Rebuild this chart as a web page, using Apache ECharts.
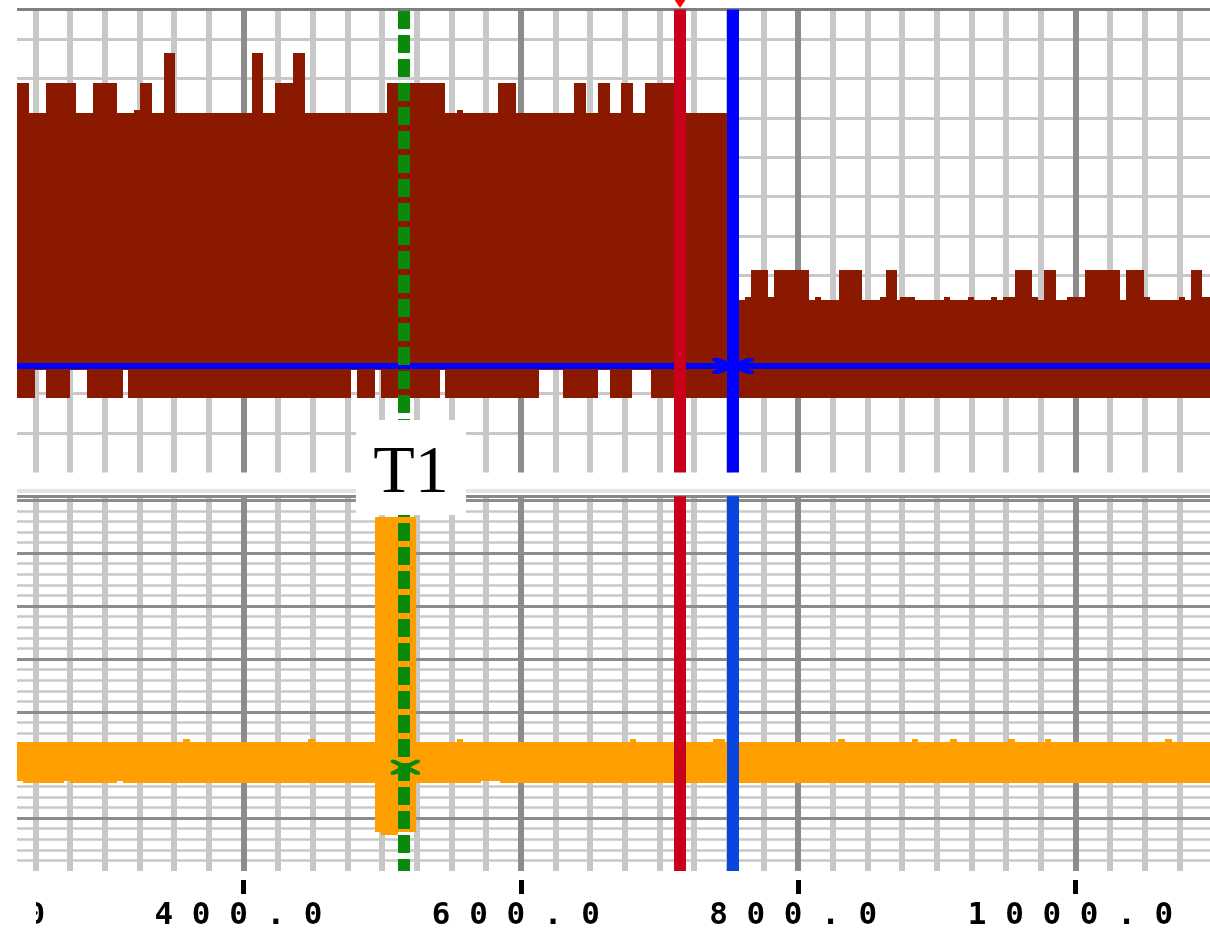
<!DOCTYPE html>
<html lang="en">
<head>
<meta charset="UTF-8">
<title>Trace</title>
<script src="https://cdn.jsdelivr.net/npm/echarts@6/dist/echarts.min.js"></script>
<style>
    html, body {margin: 0; padding: 0; background: #fff;}
    #main {width: 1210px; height: 935px;}
</style>
</head>
<body>
<div id="main"></div>
<script type="text/javascript">
    // x 轴范围 (时间), 网格每 25 一条细线, 每 200 一条粗线
    var xMin = 200, xMax = 1100, xEnd = 1097;
    var yTopMax = 11.75, yBotMax = 7.075;

    // 光标位置
    var cursorT1 = 515.7, cursorRed = 714.8, cursorBlue = 753.0;
    var blueLevel = 2.7;      // 上面板的蓝色水平线
    var greenMarkY = 1.96;    // 下面板绿色 X 标记

    // 上面板 (红色) 包络: 上边沿
    var redTopX = [236.7, 245.3, 257.6, 279.2, 291.5, 308.8, 321.0, 325.4, 334.0, 342.7, 350.6, 406.1, 414.1, 422.7, 435.7, 444.4,
        503.5, 545.3, 554.0, 558.3, 583.5, 596.5, 638.3, 647.0, 655.6, 664.3, 672.2, 680.9, 689.5, 714.8,
        753.0, 761.6, 766.0, 778.2, 782.6, 807.8, 812.1, 816.5, 829.4, 846.0, 859.0, 863.3, 871.3, 873.4, 884.2,
        905.2, 909.5, 922.5, 926.8, 939.1, 943.4, 947.7, 956.4, 968.6, 972.9, 977.3, 985.9, 993.9, 1006.8,
        1032.1, 1036.4, 1049.4, 1053.7, 1074.6, 1078.9, 1083.3, 1091.2];
    var redTopY = [9.88, 9.12, 9.88, 9.12, 9.88, 9.12, 9.2, 9.88, 9.12, 10.65, 9.12, 10.65, 9.12, 9.88, 10.65, 9.12,
        9.88, 9.12, 9.2, 9.12, 9.88, 9.12, 9.88, 9.12, 9.88, 9.12, 9.88, 9.12, 9.88, 9.12,
        4.38, 4.45, 5.14, 4.45, 5.14, 4.38, 4.45, 4.38, 5.14, 4.38, 4.45, 5.14, 4.38, 4.45, 4.38,
        4.45, 4.38, 4.45, 4.38, 4.45, 4.38, 4.45, 5.14, 4.45, 4.38, 5.14, 4.38, 4.45, 5.14,
        4.38, 5.14, 4.45, 4.38, 4.45, 4.38, 5.14, 4.45];
    // 下边沿
    var redLowX = [236.7, 249.3, 257.4, 274.7, 287.0, 313.3, 316.6, 477.2, 481.7, 495.0, 499.0, 541.6, 545.3,
        613.1, 630.4, 655.6, 664.3, 680.5, 693.7];
    var redLowY = [1.89, 2.61, 1.89, 2.61, 1.89, 2.61, 1.89, 2.61, 1.89, 2.61, 1.89, 2.61, 1.89,
        2.61, 1.89, 2.61, 1.89, 2.61, 1.89];

    // 下面板 (橙色) 包络
    var orangeTopX = [236.7, 356.4, 361.4, 446.5, 451.6, 494.8, 524.3, 554.0, 558.3, 678.7, 683.1, 738.6, 747.2,
        828.7, 833.8, 882.1, 886.4, 909.5, 914.5, 951.3, 956.4, 978.0, 982.3, 1064.5, 1069.5];
    var orangeTopY = [2.435, 2.49, 2.435, 2.49, 2.435, 6.68, 2.435, 2.49, 2.435, 2.49, 2.435, 2.49, 2.435,
        2.49, 2.435, 2.49, 2.435, 2.49, 2.435, 2.49, 2.435, 2.49, 2.435, 2.49, 2.435];
    var orangeLowX = [236.7, 241.0, 270.6, 274.9, 308.8, 313.1, 494.8, 499.2, 511.4, 524.3, 571.3, 585.0];
    var orangeLowY = [1.70, 1.656, 1.70, 1.656, 1.70, 1.656, 0.736, 0.68, 0.736, 1.656, 1.70, 1.656];

    // 把上下边沿合成为 [x0, x1, 下, 上] 的小块
    function buildBands(topX, topY, lowX, lowY, end) {
        var xs = topX.concat(lowX, [end]).sort(function (a, b) { return a - b; });
        var pts = [];
        xs.forEach(function (v) {
            if (!pts.length || v - pts[pts.length - 1] > 1e-6) pts.push(v);
        });
        function levelAt(xArr, yArr, v) {
            var lv = yArr[0];
            for (var i = 0; i < xArr.length; i++) {
                if (xArr[i] <= v + 1e-6) lv = yArr[i];
            }
            return lv;
        }
        var out = [];
        for (var i = 0; i < pts.length - 1; i++) {
            out.push([pts[i], pts[i + 1], levelAt(lowX, lowY, pts[i]), levelAt(topX, topY, pts[i])]);
        }
        return out;
    }

    function bandItem(color) {
        return function (params, api) {
            var a = api.coord([api.value(0), api.value(3)]);
            var b = api.coord([api.value(1), api.value(2)]);
            var x0 = Math.round(a[0]), x1 = Math.round(b[0]);
            var y0 = Math.round(a[1]), y1 = Math.round(b[1]);
            return {
                type: 'rect',
                shape: {x: x0, y: y0, width: x1 - x0, height: y1 - y0},
                style: {fill: color}
            };
        };
    }

    var light = '#c8c8c8', dark = '#8c8c8c';
    var vLineColors = [dark, light, light, light, light, light, light, light];
    var crossPath = 'path://M0,0L6,0L41,13L41,16L35,16L0,3ZM35,0L41,0L41,3L6,16L0,16L0,13Z';

    function gridXAxis(gridIndex, lineColor) {
        return {
            type: 'value', gridIndex: gridIndex, position: 'top', min: xMin, max: xMax, interval: 25,
            axisLine: {show: true, onZero: false, lineStyle: {color: lineColor, width: 3}},
            axisTick: {show: false}, axisLabel: {show: false},
            splitLine: {show: true, lineStyle: {color: vLineColors, width: 6}}
        };
    }

    function cursorLine(x, yMax, color, extra) {
        var ls = {color: color, width: 12, type: 'solid'};
        if (extra) { for (var k in extra) ls[k] = extra[k]; }
        return [{coord: [x, yMax], lineStyle: ls}, {coord: [x, 0]}];
    }

    var myChart = echarts.init(document.getElementById('main'));
    var option = {
        animation: false,
        backgroundColor: '#fff',
        grid: [
            {left: -33.83, width: 1248, top: 9.5, height: 462.9, outerBoundsMode: 'none'},
            {left: -33.83, width: 1248, top: 496.2, height: 374.8, outerBoundsMode: 'none'},
            {left: -33.83, width: 1248, top: 879, height: 1, outerBoundsMode: 'none'}
        ],
        xAxis: [
            gridXAxis(0, '#808080'),
            gridXAxis(1, '#888888'),
            {
                type: 'value', gridIndex: 1, position: 'top', offset: 5, min: xMin, max: xMax,
                axisLine: {show: true, onZero: false, lineStyle: {color: '#e4e4e4', width: 4}},
                axisTick: {show: false}, axisLabel: {show: false}, splitLine: {show: false}
            },
            {
                type: 'value', gridIndex: 2, position: 'bottom', min: xMin, max: xMax, interval: 200,
                axisLine: {show: false, onZero: false},
                axisTick: {show: true, length: 14, lineStyle: {color: '#000', width: 5}},
                splitLine: {show: false},
                axisLabel: {
                    show: true, margin: 20, color: '#000', fontFamily: 'DejaVu Sans Mono', fontSize: 31,
                    fontWeight: 'bold', padding: [0, 10, 0, 0], showMinLabel: true, showMaxLabel: false,
                    formatter: function (v) { return v.toFixed(1).split('').join(' '); }
                }
            }
        ],
        yAxis: [
            {
                type: 'value', gridIndex: 0, min: 0, max: yTopMax, interval: 1,
                axisLine: {show: false}, axisTick: {show: false}, axisLabel: {show: false},
                splitLine: {show: true, showMinLine: false, showMaxLine: false, lineStyle: {color: light, width: 3}}
            },
            {
                type: 'value', gridIndex: 1, min: 0, max: yBotMax, interval: 0.2,
                axisLine: {show: false}, axisTick: {show: false}, axisLabel: {show: false},
                splitLine: {show: true, showMinLine: false, showMaxLine: false, lineStyle: {color: light, width: 2.5}}
            },
            {
                type: 'value', gridIndex: 1, min: 0, max: yBotMax, interval: 1, z: 1,
                axisLine: {show: false}, axisTick: {show: false}, axisLabel: {show: false},
                splitLine: {show: true, showMinLine: false, showMaxLine: false, lineStyle: {color: dark, width: 3}}
            },
            {type: 'value', gridIndex: 2, min: 0, max: 1, show: false}
        ],
        series: [
            {
                type: 'custom', name: 'CH1', xAxisIndex: 0, yAxisIndex: 0, z: 2,
                renderItem: bandItem('#8a1900'),
                encode: {x: [0, 1], y: [2, 3]},
                data: buildBands(redTopX, redTopY, redLowX, redLowY, xEnd)
            },
            {
                type: 'custom', name: 'CH2', xAxisIndex: 1, yAxisIndex: 1, z: 2,
                renderItem: bandItem('#ffa000'),
                encode: {x: [0, 1], y: [2, 3]},
                data: buildBands(orangeTopX, orangeTopY, orangeLowX, orangeLowY, xEnd)
            },
            {
                // 上面板光标
                type: 'scatter', xAxisIndex: 0, yAxisIndex: 0, z: 3, data: [],
                markLine: {
                    silent: true, symbol: ['none', 'none'], label: {show: false}, animation: false,
                    lineStyle: {type: 'solid'},
                    data: [
                        [{coord: [xMin, blueLevel], lineStyle: {color: '#0000ff', width: 6, type: 'solid'}}, {coord: [xMax, blueLevel]}],
                        cursorLine(cursorT1, yTopMax, '#0a8a0a', {type: [18, 6], dashOffset: 22.5}),
                        cursorLine(cursorRed, yTopMax, '#c8001a'),
                        cursorLine(cursorBlue, yTopMax, '#0000ff')
                    ]
                }
            },
            {
                // 下面板光标
                type: 'scatter', xAxisIndex: 1, yAxisIndex: 1, z: 3, data: [],
                markLine: {
                    silent: true, symbol: ['none', 'none'], label: {show: false}, animation: false,
                    lineStyle: {type: 'solid'},
                    data: [
                        cursorLine(cursorT1, yBotMax, '#0a8a0a', {type: [18, 6], dashOffset: 21.2}),
                        cursorLine(cursorRed, yBotMax, '#c8001a'),
                        cursorLine(cursorBlue, yBotMax, '#0846de')
                    ]
                }
            },
            {
                type: 'scatter', xAxisIndex: 0, yAxisIndex: 0, z: 10, clip: false, silent: true,
                itemStyle: {opacity: 1},
                data: [
                    {value: [cursorBlue, blueLevel], symbol: crossPath, symbolSize: [41, 16], itemStyle: {color: '#0000ff', opacity: 1}},
                    {value: [cursorRed, yTopMax], symbol: 'triangle', symbolRotate: 180, symbolSize: [12, 9],
                        symbolOffset: [0, -6], itemStyle: {color: '#ff0000', opacity: 1}}
                ]
            },
            {
                type: 'scatter', xAxisIndex: 1, yAxisIndex: 1, z: 10, clip: false, silent: true,
                itemStyle: {opacity: 1},
                data: [
                    {value: [cursorT1 + 1, greenMarkY], symbol: crossPath, symbolSize: [29, 15], itemStyle: {color: '#0a8a0a', opacity: 1}}
                ]
            },
            {
                // T1 标签
                type: 'scatter', xAxisIndex: 0, yAxisIndex: 0, z: 20, clip: false, silent: true,
                symbolSize: 1, itemStyle: {color: '#fff', opacity: 1},
                data: [[cursorT1, 0]],
                label: {
                    show: true, position: 'inside', offset: [7, -5], formatter: '{s| }\n{t|T1}', opacity: 1,
                    backgroundColor: '#fff', width: 110,
                    align: 'center', verticalAlign: 'middle',
                    rich: {
                        s: {fontSize: 10, lineHeight: 14},
                        t: {fontFamily: 'Liberation Serif', fontSize: 68, lineHeight: 81, color: '#000'}
                    }
                }
            }
        ],
        graphic: [
            {type: 'rect', z: 100, silent: true, shape: {x: 0, y: 0, width: 17, height: 878}, style: {fill: '#fff'}},
            {type: 'rect', z: 100, silent: true, shape: {x: 0, y: 878, width: 36, height: 57}, style: {fill: '#fff'}}
        ]
    };
    myChart.setOption(option);
</script>
</body>
</html>
